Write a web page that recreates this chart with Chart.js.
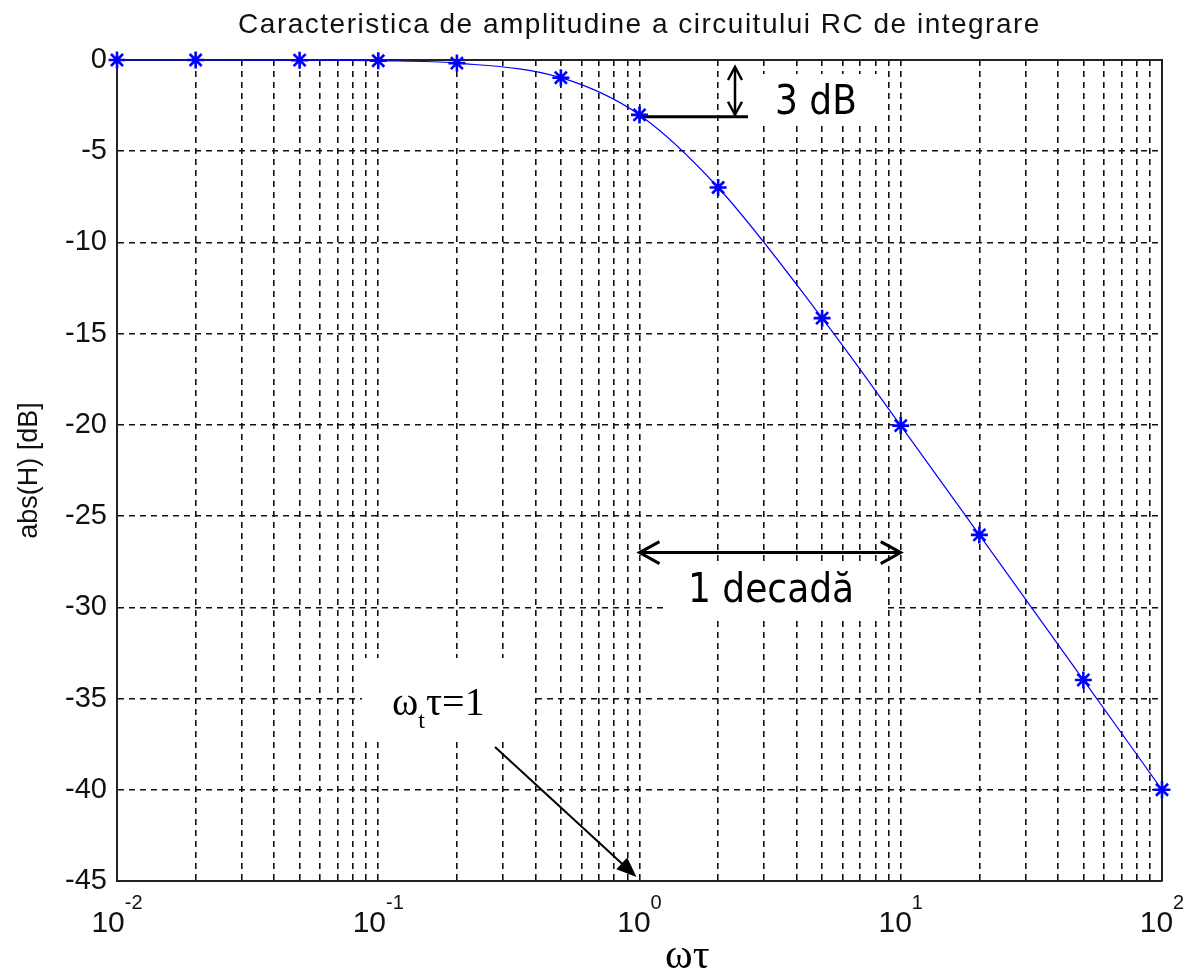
<!DOCTYPE html>
<html>
<head>
<meta charset="utf-8">
<title>Caracteristica de amplitudine</title>
<script src="https://cdn.jsdelivr.net/npm/chart.js@4.4.1/dist/chart.umd.min.js"></script>
<style>
  html, body { margin: 0; padding: 0; background: #fff; }
  canvas { display: block; }
</style>
</head>
<body>
<canvas id="chart" width="1186" height="974"></canvas>
<script>
// Amplitude response of the RC integrator, |H| in dB versus ωτ
const OMEGA_TAU = [0.01, 0.02, 0.05, 0.1, 0.2, 0.5, 1, 2, 5, 10, 20, 50, 100];
const GAIN_DB   = [0, 0, -0.01, -0.04, -0.17, -0.97, -3.01, -6.99, -14.15, -20.04, -26.03, -33.98, -40.0];

const X_DECADES   = [0.01, 0.1, 1, 10, 100];
const X_EXPONENTS = ['-2', '-1', '0', '1', '2'];
const Y_TICKS     = [0, -5, -10, -15, -20, -25, -30, -35, -40, -45];

const TITLE   = 'Caracteristica de amplitudine a circuitului RC de integrare';
const Y_TITLE = 'abs(H) [dB]';

const AXIS_FONT = '"Liberation Sans", Arial, sans-serif';
const NOTE_FONT = '"DejaVu Sans", Verdana, sans-serif';
const SERIF     = '"Liberation Serif", "Times New Roman", serif';

// log grid: every integer multiple inside each decade
function logGridValues() {
  const vals = [];
  for (let i = 0; i < X_DECADES.length - 1; i++) {
    for (let m = 1; m <= 9; m++) vals.push(Number((X_DECADES[i] * m).toPrecision(6)));
  }
  vals.push(X_DECADES[X_DECADES.length - 1]);
  return vals;
}

function arrowHeadOpen(ctx, x, y, ang, len, half) {
  ctx.beginPath();
  ctx.moveTo(x - len * Math.cos(ang) - half * Math.sin(ang), y - len * Math.sin(ang) + half * Math.cos(ang));
  ctx.lineTo(x, y);
  ctx.lineTo(x - len * Math.cos(ang) + half * Math.sin(ang), y - len * Math.sin(ang) - half * Math.cos(ang));
  ctx.stroke();
}

function arrowHeadFilled(ctx, x, y, ang, len, half) {
  ctx.beginPath();
  ctx.moveTo(x, y);
  ctx.lineTo(x - len * Math.cos(ang) - half * Math.sin(ang), y - len * Math.sin(ang) + half * Math.cos(ang));
  ctx.lineTo(x - len * Math.cos(ang) + half * Math.sin(ang), y - len * Math.sin(ang) - half * Math.cos(ang));
  ctx.closePath();
  ctx.fill();
}

function condensedText(ctx, text, x, y, size, sx) {
  ctx.save();
  ctx.translate(x, y);
  ctx.scale(sx, 1);
  ctx.font = `${size}px ${NOTE_FONT}`;
  ctx.textAlign = 'left';
  ctx.textBaseline = 'alphabetic';
  ctx.fillText(text, 0, 0);
  ctx.restore();
}

const decorations = {
  id: 'decorations',
  beforeDatasetsDraw(chart) {
    const { ctx, chartArea: a } = chart;
    const xs = chart.scales.x, ys = chart.scales.y;

    // top and right edges of the axes box
    ctx.save();
    ctx.strokeStyle = '#222';
    ctx.lineWidth = 2;
    ctx.beginPath();
    ctx.moveTo(a.left, a.top);
    ctx.lineTo(a.right, a.top);
    ctx.lineTo(a.right, a.bottom);
    ctx.stroke();

    // white label backgrounds over the grid
    ctx.fillStyle = '#fff';
    ctx.fillRect(748, 74, 136, 51);
    ctx.fillRect(663, 566, 222, 54);
    ctx.fillRect(362, 658, 171, 79);

    ctx.strokeStyle = '#000';
    ctx.fillStyle = '#000';
    ctx.lineCap = 'butt';

    // 3 dB marker
    const x1 = xs.getPixelForValue(1);
    const y3 = ys.getPixelForValue(-3) + 2;
    ctx.lineWidth = 3;
    ctx.beginPath();
    ctx.moveTo(x1, y3);
    ctx.lineTo(748, y3);
    ctx.stroke();
    ctx.lineWidth = 2.5;
    ctx.beginPath();
    ctx.moveTo(735, a.top + 7);
    ctx.lineTo(735, y3 - 2);
    ctx.stroke();
    arrowHeadOpen(ctx, 735, a.top + 7, -Math.PI / 2, 13, 7);
    arrowHeadOpen(ctx, 735, y3 - 2, Math.PI / 2, 13, 7);
    condensedText(ctx, '3 dB', 775, 114, 40, 0.9);

    // one decade span
    const x10 = xs.getPixelForValue(10);
    const yd = ys.getPixelForValue(-27);
    ctx.lineWidth = 3;
    ctx.beginPath();
    ctx.moveTo(x1, yd);
    ctx.lineTo(x10, yd);
    ctx.stroke();
    arrowHeadOpen(ctx, x1, yd, Math.PI, 20, 11);
    arrowHeadOpen(ctx, x10, yd, 0, 20, 11);
    condensedText(ctx, '1 decadă', 688, 602, 40, 0.9);

    // corner frequency callout
    ctx.font = `40px ${SERIF}`;
    ctx.textBaseline = 'alphabetic';
    ctx.textAlign = 'left';
    let tx = 392;
    ctx.fillText('ω', tx, 715);
    tx += ctx.measureText('ω').width;
    ctx.font = `24px ${SERIF}`;
    ctx.fillText('t', tx, 728);
    tx += ctx.measureText('t').width + 1;
    ctx.font = `40px ${SERIF}`;
    ctx.fillText('τ=1', tx, 715);

    const tipX = x1 - 3, tipY = a.bottom - 4;
    const ang = Math.atan2(tipY - 747, tipX - 495);
    ctx.lineWidth = 2;
    ctx.beginPath();
    ctx.moveTo(495, 747);
    ctx.lineTo(tipX - 14 * Math.cos(ang), tipY - 14 * Math.sin(ang));
    ctx.stroke();
    arrowHeadFilled(ctx, tipX, tipY, ang, 20, 8);
    ctx.restore();
  },
  afterDraw(chart) {
    const { ctx, chartArea: a } = chart;
    const xs = chart.scales.x;
    ctx.save();
    ctx.fillStyle = '#111';
    ctx.textBaseline = 'alphabetic';
    ctx.textAlign = 'left';

    // title
    ctx.font = `28px ${AXIS_FONT}`;
    if ('letterSpacing' in ctx) ctx.letterSpacing = '1.5px';
    const tw = ctx.measureText(TITLE).width;
    ctx.fillText(TITLE, (a.left + a.right) / 2 - tw / 2, 33);
    if ('letterSpacing' in ctx) ctx.letterSpacing = '0px';

    // decade labels 10^n
    X_DECADES.forEach((v, i) => {
      const px = xs.getPixelForValue(v);
      ctx.font = `30px ${AXIS_FONT}`;
      const wb = ctx.measureText('10').width;
      ctx.font = `20px ${AXIS_FONT}`;
      const we = ctx.measureText(X_EXPONENTS[i]).width;
      const left = px - (wb + we) / 2;
      ctx.font = `30px ${AXIS_FONT}`;
      ctx.fillText('10', left, 932);
      ctx.font = `20px ${AXIS_FONT}`;
      ctx.fillText(X_EXPONENTS[i], left + wb, 909);
    });

    // x axis quantity
    ctx.fillStyle = '#000';
    ctx.font = `42px ${SERIF}`;
    ctx.fillText('ωτ', 665, 968);
    ctx.restore();
  }
};

new Chart(document.getElementById('chart'), {
  type: 'line',
  data: {
    datasets: [{
      data: OMEGA_TAU.map((x, i) => ({ x, y: GAIN_DB[i] })),
      borderColor: '#0000ff',
      borderWidth: 1.2,
      cubicInterpolationMode: 'monotone',
      pointStyle: 'star',
      pointRadius: 8.5,
      pointBorderWidth: 2.6,
      pointBorderColor: '#0000ff',
      pointBackgroundColor: '#0000ff',
      clip: false,
      fill: false
    }]
  },
  options: {
    responsive: false,
    devicePixelRatio: 1,
    animation: false,
    events: [],
    layout: { padding: { top: 60, right: 24, bottom: 0, left: 0 } },
    plugins: {
      legend: { display: false },
      tooltip: { enabled: false },
      title: { display: false }
    },
    scales: {
      x: {
        type: 'logarithmic',
        min: 0.01,
        max: 100,
        afterBuildTicks: (s) => { s.ticks = logGridValues().map(value => ({ value })); },
        afterFit: (s) => { s.height = 93; },
        ticks: { display: false },
        grid: { color: '#111', lineWidth: 1.6, drawTicks: false },
        border: { display: true, color: '#222', width: 2, dash: [6, 5] }
      },
      y: {
        min: -45,
        max: 0,
        afterBuildTicks: (s) => { s.ticks = Y_TICKS.map(value => ({ value })); },
        afterFit: (s) => { s.width = 117; },
        ticks: {
          color: '#111',
          padding: 10,
          font: { family: AXIS_FONT, size: 29 },
          callback: (v) => String(v)
        },
        grid: { color: '#111', lineWidth: 1.6, drawTicks: false },
        border: { display: true, color: '#222', width: 2, dash: [6, 5] },
        title: {
          display: true,
          text: Y_TITLE,
          color: '#111',
          font: { family: AXIS_FONT, size: 27 },
          padding: { top: 13, bottom: 0 }
        }
      }
    }
  },
  plugins: [decorations]
});
</script>
</body>
</html>
